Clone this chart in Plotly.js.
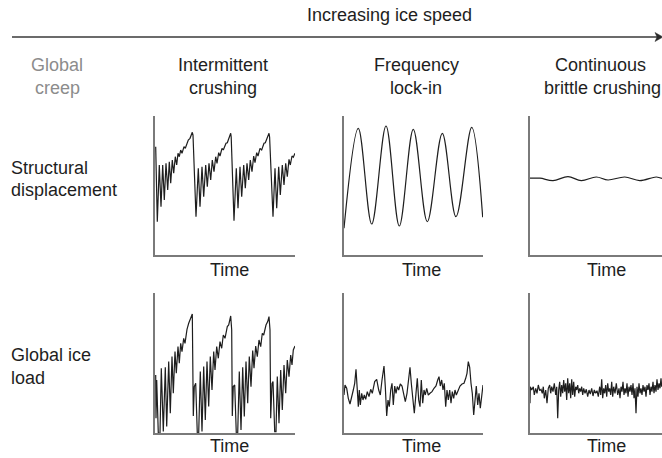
<!DOCTYPE html>
<html>
<head>
<meta charset="utf-8">
<script src="https://cdn.plot.ly/plotly-3.0.1.min.js"></script>
<style>
  html, body { margin: 0; padding: 0; background: #ffffff; }
  #chart { width: 662px; height: 458px; }
</style>
</head>
<body>
<div id="chart"></div>
<script>
// ---- Ice-induced vibration regimes: schematic time histories ----
// Time and amplitude are in arbitrary units (one unit ~ one screen pixel).

// Intermittent crushing - structural displacement (sawtooth with decaying ringing)
const icDispT = [0.7, 2.3, 4.3, 6, 7.7, 9.3, 11, 12.7, 14.3, 15.7, 17.3, 18.7, 20.3, 21.7, 23, 24.3, 25.7, 27, 29, 30.3, 33.3, 35, 37.3, 38, 41,
  43.3, 45, 47, 48.7, 50.7, 52.3, 54, 55.7, 57.3, 59, 60.7, 62, 63.7, 65, 67, 68.3, 71, 72.3, 75.7, 76.2, 79,
  81.3, 83, 85, 86.7, 88.7, 90.3, 92, 93.7, 95.3, 97, 98.7, 100, 101.7, 103, 105, 106.7, 109, 110.3, 114, 114.6, 118,
  120, 121.7, 123.7, 125.3, 127.3, 129, 130.7, 132.3, 134, 135.3, 137, 138.3, 140];
const icDispY = [108.3, 33.3, 90, 48.3, 90, 55, 91.7, 65, 93.3, 71.7, 95, 81.7, 98.3, 90, 101.7, 98.3, 105, 101.7, 108.3, 106.7, 115, 116.7, 122.7, 120, 38.3,
  86.7, 48.3, 88.3, 58.3, 90, 68.3, 91.7, 75, 95, 83.3, 98.3, 91.7, 102.3, 99, 106.7, 105, 111.7, 112.3, 121.7, 118, 34.3,
  86.7, 46.7, 88.3, 58.3, 90, 66.7, 91.7, 75, 95, 83.3, 99, 92.3, 102.3, 99, 106.7, 105, 111.7, 112.3, 121.7, 118, 38.3,
  86.7, 46.7, 88.3, 60, 90, 70, 91.7, 78.3, 95.7, 90, 99, 97.7, 101.7];

// Frequency lock-in - structural displacement (steady resonant oscillation, extrema)
const liDispT = [0, 14.3, 27.7, 42, 55.3, 69.3, 83.3, 98.3, 112, 127.7, 138.7];
const liDispY = [26.7, 126.7, 31, 129, 29, 125.7, 33.3, 121.7, 38.3, 127.7, 37.7];

// Continuous brittle crushing - structural displacement (small ripple)
const cbDispT = [0, 10, 23, 38, 51.3, 66.3, 78, 94.7, 109.7, 126.3, 132];
const cbDispY = [76.8, 76.8, 74.4, 78.3, 74.4, 78, 75, 78, 74.4, 78, 76.5];

// Intermittent crushing - global ice load (load build-up and failure)
const icLoadT = [0.7, 1, 1.7, 3.3, 5, 6.3, 8.3, 10.3, 11.7, 13.7, 15.3, 17, 18.3, 20, 21.3, 23, 24.3, 25.7, 27, 28.7, 30, 32, 33.7, 35, 37.3,
  38.3, 39.3, 40.7, 42.3, 43.7, 45.3, 47, 48.7, 50.3, 52, 53.7, 55.3, 57, 58.7, 60, 61.7, 63.3, 65, 66.7, 68.3, 70, 72.3, 73.7, 75.7, 76.7,
  77.3, 78.3, 79.7, 81.3, 82.7, 84.3, 86, 87.7, 89.3, 91, 92.7, 94.3, 96, 97.7, 99, 100.7, 102.3, 104, 105.7, 107.3, 108.7, 111, 112.7, 114, 115,
  115.7, 117, 118, 119.7, 121, 122.3, 124, 125.7, 127.3, 129, 130.7, 132.3, 134, 135.7, 137, 138.3, 140];
const icLoadY = [58.3, 15, 53.3, 0, 0, 65, 1.7, 66, 6.7, 71.7, 20, 76.7, 40, 81.7, 60, 86.7, 70, 90, 81.7, 95, 90, 104, 110, 114, 119.3,
  17.3, 46.7, 50, 0, 0, 61.7, 1.7, 66.7, 13.3, 71.7, 26.7, 76.7, 43.3, 81.7, 63.3, 86.7, 75, 91.7, 85, 98.3, 95, 106.7, 108.3, 117.3, 103.3,
  17.3, 46.7, 48.3, 0, 0, 61.7, 3.3, 66, 16.7, 71.7, 30, 76.7, 46.7, 82.7, 65, 87.3, 76.7, 93.3, 86.7, 100, 98.3, 108.3, 111.7, 116.7, 103.3,
  15, 50, 51.7, 1.7, 1.7, 56.7, 10, 63.3, 23.3, 68.3, 40, 73.3, 56.7, 78.3, 68.3, 83.3, 87.3];

// Frequency lock-in - global ice load (irregular, moderate amplitude)
const liLoadT = [0, 1, 2.7, 4.3, 6, 7.7, 9.3, 10.7, 12, 13.3, 14.3, 15.3, 16.3, 17.7, 19, 20.3, 21.7, 23.3, 25, 26.7, 28.3, 30.7, 32.7, 34.7, 36.3,
  38, 40, 41.3, 42.7, 44, 45.3, 46.7, 48, 49.3, 50.7, 52, 53.3, 54.7, 56.3, 58, 59.7, 61.3, 63, 64.7, 66, 67.3, 69, 70.3, 72, 73.3,
  74.7, 76, 77.3, 78.7, 80, 81.3, 82.7, 84.3, 86, 88, 90, 92, 93.7, 95, 96.3, 97.7, 99, 100.3, 101.7, 103, 104.3, 105.7, 107, 108.3,
  109.7, 111, 112.3, 114, 116, 118, 120, 121.7, 123, 124.3, 125.7, 127, 128.3, 129.7, 131, 132.3, 133.7, 135, 136.3, 137.7, 139];
const liLoadY = [38.3, 48.3, 45, 35, 29.3, 38.3, 43.3, 50, 64, 43.3, 26.7, 43.3, 28.3, 40, 33.3, 38.3, 34, 41.7, 36.7, 44, 40, 51.7, 54, 43.3, 38.3,
  53.3, 67.3, 46.7, 17.3, 33.3, 26.7, 43.3, 50, 28.3, 47.3, 40, 46.7, 43.3, 49.3, 47.3, 38.3, 31.7, 40, 53.3, 66, 50, 30, 20, 40, 55,
  33.3, 26.7, 53.3, 30, 43.3, 38.3, 45, 38.3, 40, 41.7, 45, 47.3, 53.3, 56.7, 47.3, 53.3, 43.3, 50, 26.7, 43.3, 33.3, 43.3, 30, 41.7,
  35, 43.3, 38.3, 43.3, 47.3, 49.3, 50, 55, 60, 71.7, 66, 50, 40, 18.3, 36.7, 47.3, 28.3, 40, 25, 38.3, 48.3];

// Continuous brittle crushing - global ice load (high-frequency, low amplitude)
const cbLoadT = [0, 0.3, 1.7, 3.3, 4.3, 5.7, 7, 8.3, 9.7, 11, 12.3, 13.3, 14.3, 15.7, 17, 18.3, 19.7, 20.7, 21.7, 23, 24.3, 25.7, 26.7, 27.7, 28.7,
  29.7, 30.7, 31.7, 32.7, 33.7, 34.7, 35.7, 36.7, 37.7, 38.7, 39.7, 40.7, 41.7, 42.7, 43.7, 44.7, 45.7, 46.7, 47.7, 48.7, 49.7, 50.7, 51.7,
  52.7, 53.7, 55, 56.3, 57.7, 59, 60.3, 61.7, 63, 64.3, 65.7, 67, 68.3, 69.7, 70.7, 71.7, 72.7, 73.7, 74.7, 75.7, 76.7, 77.7, 78.7, 79.7,
  80.7, 81.7, 82.7, 83.7, 85, 86.3, 87.7, 89, 90, 91, 92, 93, 94, 95, 96, 97, 98, 99, 100, 101, 102, 103, 104, 105, 106, 107, 108, 109,
  110, 111, 112, 113, 114, 115, 116, 117, 118, 119, 120, 121, 122, 123, 124, 125, 126, 127, 128, 129, 130, 131, 131.7];
const cbLoadY = [30, 46.6, 43.3, 46.6, 38.3, 45, 40, 48.3, 42.6, 44, 40, 46.6, 35, 43.3, 30, 45, 48.3, 40, 46.6, 41.6, 50, 38.3, 46.6, 15, 43.3,
  51.6, 36.6, 48.3, 40, 53.3, 41.6, 50, 33.3, 55, 40, 50, 35, 54, 38.3, 51.6, 36.6, 46.6, 43.3, 48.3, 40, 45, 41.6, 46.6,
  38.3, 45, 40, 44, 36.6, 43.3, 39.3, 45, 37.3, 43.3, 40, 42.6, 36.6, 46.6, 38.3, 54, 35, 45, 40, 48.3, 36.6, 50, 41.6, 45,
  38.3, 51.6, 36.6, 46.6, 40, 50, 38.3, 45, 35, 46.6, 41.6, 51.6, 38.3, 45, 40, 50, 36.6, 46.6, 41.6, 48.3, 38.3, 50, 35, 45, 20, 46.6, 36.6, 50,
  40, 45, 38.3, 48.3, 41.6, 46.6, 36.6, 48.3, 43.3, 50, 38.3, 46.6, 41.6, 51.6, 40, 48.3, 41.6, 54, 43.3, 50, 45, 55, 46.6];

// Text
const titleText = 'Increasing ice speed';
const regimeLines = [['Global', 'creep'], ['Intermittent', 'crushing'], ['Frequency', 'lock-in'], ['Continuous', 'brittle crushing']];
const rowLines = [['Structural', 'displacement'], ['Global ice', 'load']];
const axisLabel = 'Time';

// ---- geometry (pixels of the 662 x 458 canvas) ----
const W = 662, H = 458;
const fx = px => px / W;
const fy = py => 1 - py / H;

const cols = [[155, 295, 140], [344, 483, 139], [530, 662, 132]];   // left, right, range span
const rows = [[116, 255, 139], [293, 433.3, 140.3]];               // top, bottom, range span

const ink = '#1e1e1e';
const axisGrey = '#7a7a7a';
const font = 'Liberation Sans, Arial, Helvetica, sans-serif';

const series = [
  [icDispT, icDispY, 'linear'], [liDispT, liDispY, 'spline'], [cbDispT, cbDispY, 'spline'],
  [icLoadT, icLoadY, 'linear'], [liLoadT, liLoadY, 'linear'], [cbLoadT, cbLoadY, 'linear']
];

const traces = [];
const layout = {
  width: W, height: H,
  margin: { l: 0, r: 0, t: 0, b: 0, pad: 0 },
  paper_bgcolor: '#ffffff', plot_bgcolor: 'rgba(0,0,0,0)',
  showlegend: false,
  font: { family: font, size: 18, color: ink },
  annotations: [], shapes: []
};

series.forEach((s, i) => {
  const r = Math.floor(i / 3), c = i % 3;
  const n = i + 1;
  const xa = n === 1 ? 'x' : 'x' + n;
  const ya = n === 1 ? 'y' : 'y' + n;
  traces.push({
    x: s[0], y: s[1], xaxis: xa, yaxis: ya,
    type: 'scatter', mode: 'lines',
    line: { color: ink, width: 1.2, shape: s[2], smoothing: 1 },
    hoverinfo: 'skip', cliponaxis: true
  });
  const common = {
    showline: true, linecolor: axisGrey, linewidth: 1.6,
    showgrid: false, zeroline: false, showticklabels: false, ticks: '', fixedrange: true
  };
  layout['xaxis' + (n === 1 ? '' : n)] = Object.assign({}, common, {
    domain: [fx(cols[c][0]), fx(cols[c][1])], range: [0, cols[c][2]], anchor: ya
  });
  layout['yaxis' + (n === 1 ? '' : n)] = Object.assign({}, common, {
    domain: [fy(rows[r][1]), fy(rows[r][0])], range: [0, rows[r][2]], anchor: xa
  });
  // "Time" under each panel
  layout.annotations.push({
    xref: 'paper', yref: 'paper', x: fx([229, 421, 606][c]), y: fy([269.5, 445.5][r]),
    xanchor: 'center', yanchor: 'middle', showarrow: false,
    text: axisLabel, font: { family: font, size: 18, color: ink }
  });
});

// heading above the arrow
layout.annotations.push({
  xref: 'paper', yref: 'paper', x: fx(389), y: fy(15), xanchor: 'center', yanchor: 'middle',
  showarrow: false, text: titleText, font: { family: font, size: 18, color: ink }
});

// regime names
const regimeX = [[57, 57], [223, 223], [416, 416], [600, 602]];
regimeLines.forEach((lines, i) => {
  lines.forEach((t, k) => {
    layout.annotations.push({
      xref: 'paper', yref: 'paper', x: fx(regimeX[i][k]), y: fy(65 + 22.5 * k),
      xanchor: 'center', yanchor: 'middle', showarrow: false,
      text: t, font: { family: font, size: 18, color: i === 0 ? '#8c8c8c' : ink }
    });
  });
});

// row names
const rowY = [168, 355];
rowLines.forEach((lines, i) => {
  lines.forEach((t, k) => {
    layout.annotations.push({
      xref: 'paper', yref: 'paper', x: fx(9), y: fy(rowY[i] + 22.5 * k),
      xanchor: 'left', yanchor: 'middle', showarrow: false,
      text: t, font: { family: font, size: 18, color: ink }
    });
  });
});

// speed arrow
layout.shapes.push({
  type: 'line', xref: 'paper', yref: 'paper',
  x0: fx(12), x1: fx(657), y0: fy(37), y1: fy(37),
  line: { color: '#3a3a3a', width: 1.4 }
});
layout.shapes.push({
  type: 'path', xref: 'paper', yref: 'paper',
  path: `M ${fx(655)} ${fy(32.5)} L ${fx(663)} ${fy(37)} L ${fx(655)} ${fy(41.5)} L ${fx(657)} ${fy(37)} Z`,
  fillcolor: '#2a2a2a', line: { color: '#2a2a2a', width: 0.5 }
});

Plotly.newPlot('chart', traces, layout, { staticPlot: true, displayModeBar: false });
</script>
</body>
</html>
